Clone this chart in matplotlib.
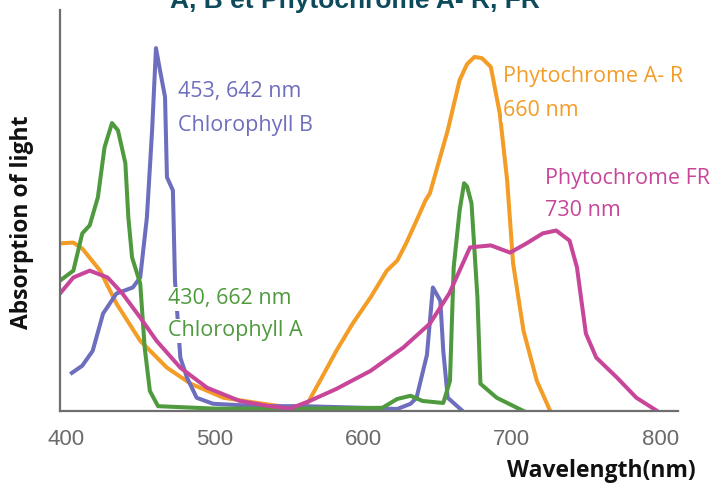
import matplotlib
matplotlib.use("Agg")
import matplotlib.pyplot as plt

# absorption spectra (wavelength nm, relative absorption 0-100)
phyto_r_nm = [396, 405, 411, 423, 434, 450, 468, 484, 506, 529, 548, 562, 571, 582, 593, 605,
              616, 623, 629, 636, 642, 645, 657, 665, 670, 675, 680, 686, 692, 697, 701, 708,
              717, 726]
phyto_r_abs = [41.8, 42, 40.5, 35, 26.8, 17.5, 10.8, 6.8, 3.3, 2.0, 1.0, 1.5, 7.5, 15, 21.8, 28.3,
               35, 37.5, 41.8, 47.5, 52.5, 54.3, 70, 82.5, 86.5, 88.3, 88, 85.8, 74.3, 57.5, 36.8, 20,
               7.5, 0]

phyto_fr_nm = [396, 405, 416, 428, 438, 450, 461, 477, 495, 517, 537, 551, 564, 582, 605, 627,
               645, 658, 672, 686, 699, 710, 721, 730, 739, 744, 747, 750, 757, 771, 784, 798]
phyto_fr_abs = [29.3, 33.3, 35, 33.3, 29.3, 23.3, 17.5, 10.8, 5.8, 2.5, 1.2, 0.6, 2.5, 5.5, 10, 15.8,
                21.8, 29.3, 40.8, 41.3, 39.5, 41.8, 44.3, 45, 42.5, 35.8, 27.5, 19.3, 13.3, 8.3, 3.3, 0]

chl_a_nm = [396, 405, 411, 416, 421.5, 426, 431, 435, 440, 442, 444.5, 450, 453, 456.5, 462, 500,
            560, 613, 623, 632, 640, 654, 658.5, 661, 665, 668, 670, 673, 677, 679, 690, 708]
chl_a_abs = [32.5, 35, 44.3, 46.3, 53.3, 65.8, 71.8, 70, 61.8, 48.3, 38.3, 31.8, 15.8, 5, 1.2, 0.6,
             0.6, 0.8, 3, 3.8, 2.5, 2, 7.5, 35.8, 50, 56.8, 56, 51.8, 28.3, 6.8, 3.3, 0]

chl_b_nm = [404, 411, 418, 425, 434, 445, 450, 454.5, 458, 460.6, 463.3, 466.7, 468, 472, 473.4,
            477, 481.5, 488, 499, 530, 560, 600, 623, 632, 636, 643, 647, 652, 654, 657, 667]
chl_b_abs = [9.5, 11.3, 15, 24.3, 29.3, 30.8, 33.3, 48.3, 70, 90.5, 85, 78.3, 58.3, 55, 32.5,
             13.3, 8.3, 3.3, 1.8, 1.2, 1.2, 0.8, 0.5, 1.8, 3.3, 14, 30.8, 27.5, 15, 3.3, 0]

x_ticks = [400, 500, 600, 700, 800]

c_orange = '#f39c26'
c_magenta = '#c8469a'
c_green = '#4f9a3e'
c_blue = '#6e6ebf'

fig = plt.figure(figsize=(7.16, 4.84), dpi=100)
ax = fig.add_axes([60 / 716, 73 / 484, 618 / 716, 401 / 484])

ax.plot(phyto_r_nm, phyto_r_abs, color=c_orange, lw=2.9, solid_joinstyle='round')
ax.plot(chl_b_nm, chl_b_abs, color=c_blue, lw=2.9, solid_joinstyle='round')
ax.plot(chl_a_nm, chl_a_abs, color=c_green, lw=2.9, solid_joinstyle='round')
ax.plot(phyto_fr_nm, phyto_fr_abs, color=c_magenta, lw=2.9, solid_joinstyle='round')

ax.set_xlim(396, 812)
ax.set_ylim(0, 100)
ax.set_yticks([])
ax.set_xticks(x_ticks)
ax.set_xticklabels([str(t) for t in x_ticks], family=['Liberation Sans', 'DejaVu Sans'],
                   fontsize=16, color='#6a6a6a')
ax.tick_params(axis='x', length=0, pad=13)
for s in ['top', 'right']:
    ax.spines[s].set_visible(False)
for s in ['left', 'bottom']:
    ax.spines[s].set_color('#6e6e6e')
    ax.spines[s].set_linewidth(1.6)

lab = dict(family=['Open Sans', 'DejaVu Sans'], fontsize=15.5, va='center', ha='left')
white = dict(facecolor='white', edgecolor='none', pad=1)
ax.text(475.4, 79.8, '453, 642 nm', color=c_blue, **lab)
ax.text(475.4, 71.3, 'Chlorophyll B', color=c_blue, **lab)
ax.text(468.7, 28, '430, 662 nm', color=c_green, bbox=white, **lab)
ax.text(468.7, 20, 'Chlorophyll A', color=c_green, bbox=white, **lab)
ax.text(694.2, 83.3, 'Phytochrome A- R', color=c_orange, bbox=white, **lab)
ax.text(694.2, 75, '660 nm', color=c_orange, bbox=white, **lab)
ax.text(722.4, 58, 'Phytochrome FR', color=c_magenta, **lab)
ax.text(722.4, 50, '730 nm', color=c_magenta, **lab)

fig.text(22 / 716, 1 - 222 / 484, 'Absorption of light', rotation=90, fontsize=16.5,
         fontweight='bold', family=['Open Sans', 'DejaVu Sans'], ha='center', va='center', color='#111111')
fig.text(601 / 716, 1 - 471 / 484, 'Wavelength(nm)', fontsize=16.5, fontweight='bold',
         family=['Open Sans', 'DejaVu Sans'], ha='center', va='center', color='#111111')
fig.text(355 / 716, 1 - 8 / 484, 'A, B et Phytochrome A- R, FR', fontsize=19, fontweight='bold',
         family=['Liberation Sans', 'DejaVu Sans'], ha='center', va='baseline', color='#0d4a5c')

fig.savefig('out.png', dpi=100)
